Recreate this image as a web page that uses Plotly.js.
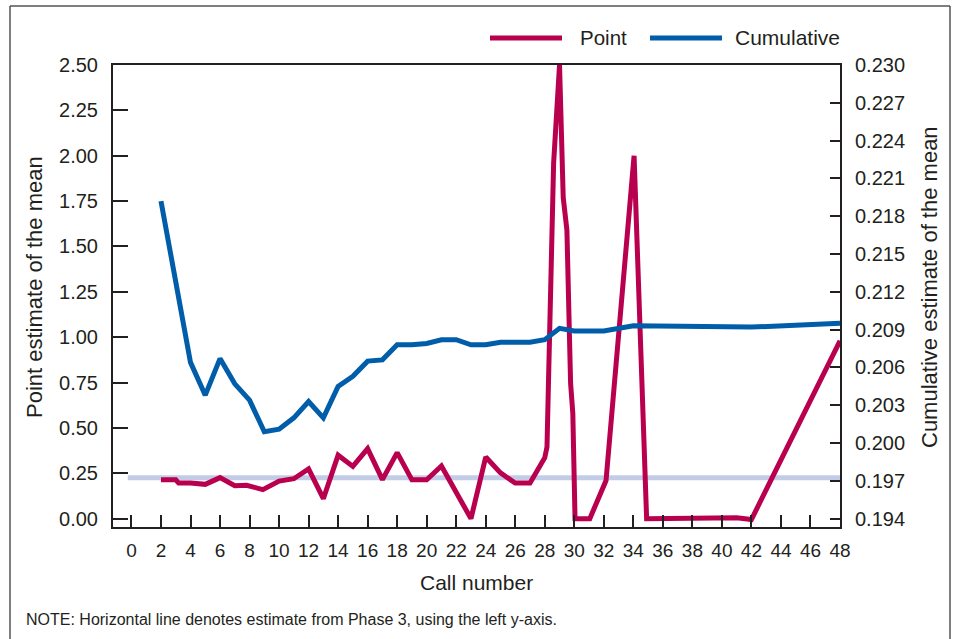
<!DOCTYPE html>
<html>
<head>
<meta charset="utf-8">
<script src="https://cdn.plot.ly/plotly-3.0.1.min.js"></script>
<style>
  html, body { margin: 0; padding: 0; background: #ffffff; }
  #chart { width: 956px; height: 639px; }
</style>
</head>
<body>
<div id="chart"></div>
<script>
// ---- Data ----
const pointX = [2, 3, 3.2, 4, 5, 6, 7, 7.8, 8.9, 10, 11, 12, 13, 14, 15, 16, 17, 18, 19, 20, 21, 22, 23, 24, 25, 26, 27, 28, 28.15, 28.25, 28.5, 28.6, 29, 29.25, 29.5, 29.7, 29.75, 29.9, 30.05, 31.05, 32, 32.15, 34.05, 34.45, 34.9, 41, 42, 48];
const pointY = [0.215, 0.214, 0.196, 0.196, 0.189, 0.226, 0.182, 0.184, 0.16, 0.207, 0.22, 0.274, 0.11, 0.35, 0.288, 0.386, 0.215, 0.364, 0.214, 0.214, 0.29, 0.147, 0.0, 0.34, 0.252, 0.196, 0.196, 0.336, 0.395, 0.745, 1.52, 1.96, 2.5, 1.77, 1.59, 0.93, 0.745, 0.58, 0.0, 0.0, 0.193, 0.21, 2.0, 1.11, 0.0, 0.005, -0.005, 0.98];

const cumX = [2, 4, 5, 6, 7, 8, 9, 10, 11, 12, 13, 14, 15, 16, 17, 18, 19, 20, 21, 22, 23, 24, 25, 26, 27, 28, 29, 30, 32, 34, 42, 48];
const cumY = [0.2192, 0.2064, 0.2038, 0.2067, 0.2047, 0.2034, 0.2009, 0.2011, 0.2020, 0.2033, 0.2020, 0.2045, 0.2053, 0.2065, 0.2066, 0.2078, 0.2078, 0.2079, 0.2082, 0.2082, 0.2078, 0.2078, 0.2080, 0.2080, 0.2080, 0.2082, 0.2091, 0.2089, 0.2089, 0.2093, 0.2092, 0.2095];

const phase3X = [-0.25, 48];
const phase3Y = [0.226, 0.226];

const xTickVals = [0, 2, 4, 6, 8, 10, 12, 14, 16, 18, 20, 22, 24, 26, 28, 30, 32, 34, 36, 38, 40, 42, 44, 46, 48];
const leftTickVals = [0, 0.25, 0.5, 0.75, 1.0, 1.25, 1.5, 1.75, 2.0, 2.25, 2.5];
const rightTickVals = [0.194, 0.197, 0.200, 0.203, 0.206, 0.209, 0.212, 0.215, 0.218, 0.221, 0.224, 0.227, 0.230];

const seriesNames = ["Point", "Cumulative"];
const titleLeft = "Point estimate of the mean";
const titleRight = "Cumulative estimate of the mean";
const titleX = "Call number";
const noteText = "NOTE: Horizontal line denotes estimate from Phase 3, using the left y-axis.";

// ---- Styles ----
const RED = "#b8004e";
const BLUE = "#005da9";
const HLINE = "#c3cce6";
const INK = "#231f20";
const FONT = "Liberation Sans, Arial, Helvetica, sans-serif";

const traces = [
  { x: phase3X, y: phase3Y, type: "scatter", mode: "lines", yaxis: "y",
    line: { color: HLINE, width: 5 }, showlegend: false, hoverinfo: "skip" },
  { x: cumX, y: cumY, type: "scatter", mode: "lines", yaxis: "y2", name: seriesNames[1],
    line: { color: BLUE, width: 5 }, showlegend: false },
  { x: pointX, y: pointY, type: "scatter", mode: "lines", yaxis: "y", name: seriesNames[0],
    line: { color: RED, width: 5 }, showlegend: false }
];

// paper coordinate helpers (plot area: x 113..840, y 65..527)
const L = 113, R = 840, T = 65, B = 527;
const px = v => (v - L) / (R - L);
const py = v => (B - v) / (B - T);

const layout = {
  width: 956, height: 639,
  margin: { l: L, r: 956 - R, t: T, b: 639 - B, pad: 0 },
  paper_bgcolor: "#ffffff", plot_bgcolor: "#ffffff",
  font: { family: FONT, color: INK, size: 20 },
  showlegend: false,
  xaxis: {
    range: [-1.25, 48], tickvals: xTickVals, ticktext: xTickVals.map(String),
    showgrid: false, zeroline: false, showline: true, mirror: true,
    linecolor: INK, linewidth: 2,
    ticks: "inside", ticklen: 12, tickwidth: 2, tickcolor: INK,
    tickfont: { size: 19, family: FONT, color: INK }, ticklabelstandoff: 5
  },
  yaxis: {
    range: [-0.046, 2.5], tickvals: leftTickVals, tickformat: ".2f",
    showgrid: false, zeroline: false, showline: true,
    linecolor: INK, linewidth: 2,
    ticks: "inside", ticklen: 15, tickwidth: 2, tickcolor: INK,
    tickfont: { size: 20, family: FONT, color: INK }, ticklabelstandoff: 9
  },
  yaxis2: {
    overlaying: "y", side: "right",
    range: [0.194 - 0.046 * 0.0144, 0.230], tickvals: rightTickVals, tickformat: ".3f",
    showgrid: false, zeroline: false, showline: true,
    linecolor: INK, linewidth: 2,
    ticks: "inside", ticklen: 10, tickwidth: 2, tickcolor: INK,
    tickfont: { size: 20, family: FONT, color: INK }, ticklabelstandoff: 9
  },
  shapes: [
    // outer frame (left, top, right)
    { type: "line", xref: "paper", yref: "paper", x0: px(10), x1: px(10), y0: py(6), y1: py(660),
      line: { color: "#555555", width: 1.5 } },
    { type: "line", xref: "paper", yref: "paper", x0: px(10), x1: px(950), y0: py(6), y1: py(6),
      line: { color: "#555555", width: 1.5 } },
    { type: "line", xref: "paper", yref: "paper", x0: px(950), x1: px(950), y0: py(6), y1: py(660),
      line: { color: "#555555", width: 1.5 } },
    // legend samples
    { type: "line", xref: "paper", yref: "paper", x0: px(490), x1: px(562), y0: py(38), y1: py(38),
      line: { color: RED, width: 5 } },
    { type: "line", xref: "paper", yref: "paper", x0: px(650), x1: px(722), y0: py(38), y1: py(38),
      line: { color: BLUE, width: 5 } }
  ],
  annotations: [
    { text: seriesNames[0], xref: "paper", yref: "paper", x: px(578), y: py(38),
      xanchor: "left", yanchor: "middle", showarrow: false, font: { size: 20.5, family: FONT, color: INK } },
    { text: seriesNames[1], xref: "paper", yref: "paper", x: px(733), y: py(38),
      xanchor: "left", yanchor: "middle", showarrow: false, font: { size: 21, family: FONT, color: INK } },
    { text: titleLeft, xref: "paper", yref: "paper", x: px(34), y: py(287), textangle: -90,
      xanchor: "center", yanchor: "middle", showarrow: false, font: { size: 22, family: FONT, color: INK } },
    { text: titleRight, xref: "paper", yref: "paper", x: px(929), y: py(287), textangle: -90,
      xanchor: "center", yanchor: "middle", showarrow: false, font: { size: 22, family: FONT, color: INK } },
    { text: titleX, xref: "paper", yref: "paper", x: px(476.5), y: py(582),
      xanchor: "center", yanchor: "middle", showarrow: false, font: { size: 21, family: FONT, color: INK } },
    { text: noteText, xref: "paper", yref: "paper", x: px(24), y: py(619),
      xanchor: "left", yanchor: "middle", showarrow: false, font: { size: 16, family: FONT, color: INK } }
  ]
};

Plotly.newPlot("chart", traces, layout, { staticPlot: true, displayModeBar: false });
</script>
</body>
</html>
